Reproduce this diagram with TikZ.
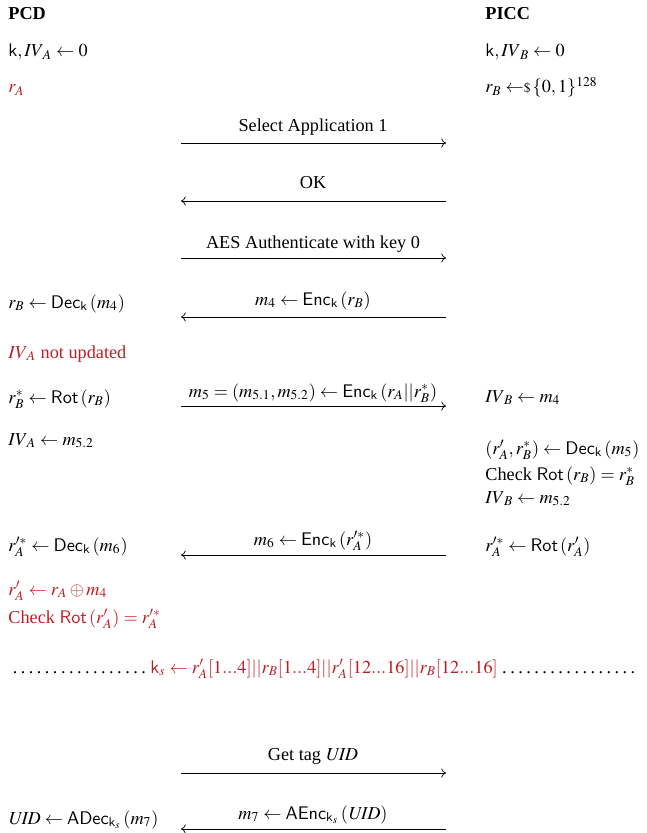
\documentclass[tikz,border=0pt]{standalone}
\usepackage{amsmath,amssymb}
\usepackage{mathptmx}
\usepackage{fontspec}
\setmainfont{Liberation Serif}
\usepackage{tikz}
\usetikzlibrary{arrows.meta}
\definecolor{pcdred}{RGB}{190,30,35}
\newcommand{\kk}{\mathsf{k}}
\newcommand{\IV}{\mathit{IV}}
\newcommand{\Enc}{\mathsf{Enc}}
\newcommand{\Dec}{\mathsf{Dec}}
\newcommand{\Rot}{\mathsf{Rot}}
\newcommand{\UID}{\mathit{UID}}

\begin{document}
\begin{tikzpicture}[
  x=0.548pt, y=-0.548pt,
  lbl/.style={anchor=base west, inner sep=0pt},
  note/.style={lbl, text=pcdred},
  msg/.style={anchor=base, inner sep=0pt},
  arrow/.style={-{To[length=2.6pt, width=5pt]}, line width=0.4pt}
]
  \useasboundingbox (0,0) rectangle (647,833);

  % Parties
  \node[lbl, font=\bfseries] (pcd) at (8,20) {PCD};
  \node[lbl, font=\bfseries] (picc) at (485,20) {PICC};

  % PCD side
  \node[lbl] (kA) at (8,57) {$\kk, \IV_A \leftarrow 0$};
  \node[note] (rA) at (8,93) {$r_A$};
  \node[lbl] (rBdec) at (8,308) {$r_B \leftarrow \Dec_{\kk}\left(m_4\right)$};
  \node[note] (ivA) at (8,358) {$\IV_A$ not updated};
  \node[lbl] (rBrot) at (8,403) {$r_B^* \leftarrow \Rot\left(r_B\right)$};
  \node[lbl] (ivAm) at (8,445) {$\IV_A \leftarrow m_{5.2}$};
  \node[lbl] (rAdec) at (8,551) {$r_A^{\prime *} \leftarrow \Dec_{\kk}\left(m_6\right)$};
  \node[note] (rAxor) at (8,595) {$r'_A \leftarrow r_A \oplus m_4$};
  \node[note] (chkA) at (8,623) {Check $\Rot\left(r'_A\right) = r_A^{\prime *}$};
  \node[lbl] (uid) at (8,824) {$\UID \leftarrow \mathsf{ADec}_{\kk_s}\left(m_7\right)$};

  % PICC side
  \node[lbl] (kB) at (485,57) {$\kk, \IV_B \leftarrow 0$};
  \node[lbl] (rB) at (485,93) {$r_B \leftarrow\!\!{\scriptstyle\$}\,\{0,1\}^{128}$};
  \node[lbl] (ivBm4) at (485,402) {$\IV_B \leftarrow m_4$};
  \node[lbl] (decB) at (485,454) {$(r'_A, r_B^*) \leftarrow \Dec_{\kk}\left(m_5\right)$};
  \node[lbl] (chkB) at (485,480) {Check $\Rot\left(r_B\right) = r_B^*$};
  \node[lbl] (ivBm52) at (485,503) {$\IV_B \leftarrow m_{5.2}$};
  \node[lbl] (rotA) at (485,551) {$r_A^{\prime *} \leftarrow \Rot\left(r'_A\right)$};

  % Session key
  \node[lbl] (ks) at (8,673) {\makebox[346pt]{\dotfill\textcolor{pcdred}{$\kk_s \leftarrow r'_A[1...4]||r_B[1...4]||r'_A[12...16]||r_B[12...16]$}\dotfill}};

  % Message ends
  \coordinate (m1a) at (181,143); \coordinate (m1b) at (446,143);
  \coordinate (m2a) at (181,201); \coordinate (m2b) at (446,201);
  \coordinate (m3a) at (181,258); \coordinate (m3b) at (446,258);
  \coordinate (m4a) at (181,317); \coordinate (m4b) at (446,317);
  \coordinate (m5a) at (181,406); \coordinate (m5b) at (446,406);
  \coordinate (m6a) at (181,555); \coordinate (m6b) at (446,555);
  \coordinate (m7a) at (181,773); \coordinate (m7b) at (446,773);
  \coordinate (m8a) at (181,829); \coordinate (m8b) at (446,829);

  % Messages
  \node[msg] (t1) at (313,132) {Select Application 1};
  \draw[arrow] (m1a) -- (m1b);
  \node[msg] (t2) at (313,189) {OK};
  \draw[arrow] (m2b) -- (m2a);
  \node[msg] (t3) at (313,248) {AES Authenticate with key 0};
  \draw[arrow] (m3a) -- (m3b);
  \node[msg] (t4) at (313,305) {$m_4 \leftarrow \Enc_{\kk}\left(r_B\right)$};
  \draw[arrow] (m4b) -- (m4a);
  \node[msg] (t5) at (313,397) {$m_5 = (m_{5.1}, m_{5.2}) \leftarrow \Enc_{\kk}\left(r_A||r_B^*\right)$};
  \draw[arrow] (m5a) -- (m5b);
  \node[msg] (t6) at (313,545) {$m_6 \leftarrow \Enc_{\kk}\left(r_A^{\prime *}\right)$};
  \draw[arrow] (m6b) -- (m6a);
  \node[msg] (t7) at (313,760) {Get tag $\UID$};
  \draw[arrow] (m7a) -- (m7b);
  \node[msg] (t8) at (313,819) {$m_7 \leftarrow \mathsf{AEnc}_{\kk_s}\left(\UID\right)$};
  \draw[arrow] (m8b) -- (m8a);
\end{tikzpicture}
\end{document}
